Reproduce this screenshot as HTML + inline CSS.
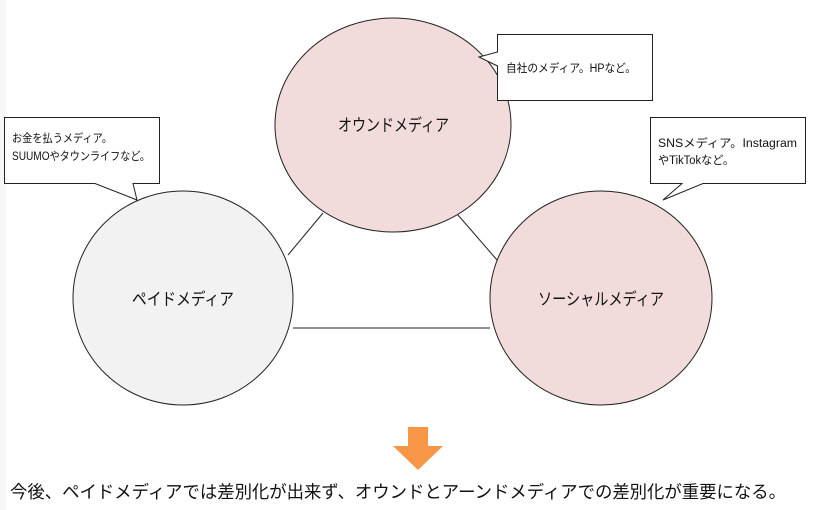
<!DOCTYPE html>
<html><head><meta charset="utf-8"><style>
body{margin:0;width:815px;height:510px;background:#fff;overflow:hidden;position:relative;font-family:"Liberation Sans","Noto Sans CJK JP",sans-serif;}
svg{position:absolute;left:0;top:0}
</style></head><body>
<svg width="815" height="510" xmlns="http://www.w3.org/2000/svg" font-family="Liberation Sans, Noto Sans CJK JP, sans-serif">
<rect x="0" y="0" width="6" height="510" fill="#f7f7f7"/>
<g stroke="#222" stroke-width="1" fill="none">
<line x1="288" y1="255" x2="323" y2="213"/>
<line x1="458" y1="215" x2="497" y2="260"/>
<line x1="293" y1="328" x2="490" y2="328"/>
</g>
<ellipse cx="393" cy="125" rx="118" ry="107" fill="#f2dcdb" stroke="#222"/>
<ellipse cx="183" cy="298" rx="110" ry="107" fill="#f2f2f2" stroke="#222"/>
<ellipse cx="601" cy="298" rx="111" ry="107" fill="#f2dcdb" stroke="#222"/>
<text x="338" y="131" font-size="17" fill="#111" textLength="111" lengthAdjust="spacingAndGlyphs">オウンドメディア</text>
<text x="132" y="305" font-size="17" fill="#111" textLength="102" lengthAdjust="spacingAndGlyphs">ペイドメディア</text>
<text x="538" y="305" font-size="17" fill="#111" textLength="126" lengthAdjust="spacingAndGlyphs">ソーシャルメディア</text>
<path d="M497.5,34.5 H652.5 V100.5 H497.5 V66 L479,57 L497.5,52 Z" fill="#fff" stroke="#222"/>
<path d="M4.5,117.5 H159.5 V183.5 H133 L137,200 L95,183.5 H4.5 Z" fill="#fff" stroke="#222"/>
<path d="M650.5,117.5 H805.5 V183.5 H703 L663,200 L682,183.5 H650.5 Z" fill="#fff" stroke="#222"/>
<text x="506" y="72" font-size="11.5" fill="#111" textLength="130" lengthAdjust="spacingAndGlyphs">自社のメディア。HPなど。</text>
<text x="12" y="142" font-size="11.5" fill="#111" textLength="100" lengthAdjust="spacingAndGlyphs">お金を払うメディア。</text>
<text x="12" y="160" font-size="11.5" fill="#111" textLength="138" lengthAdjust="spacingAndGlyphs">SUUMOやタウンライフなど。</text>
<text x="658" y="147" font-size="11.5" fill="#111" textLength="139" lengthAdjust="spacingAndGlyphs">SNSメディア。Instagram</text>
<text x="658" y="164" font-size="11.5" fill="#111" textLength="76" lengthAdjust="spacingAndGlyphs">やTikTokなど。</text>
<path d="M408,427 H428 V446 H443 L418,470 L393,446 H408 Z" fill="#f79646"/>
<text x="10" y="498" font-size="17.5" fill="#111" textLength="776" lengthAdjust="spacingAndGlyphs">今後、ペイドメディアでは差別化が出来ず、オウンドとアーンドメディアでの差別化が重要になる。</text>
</svg>
</body></html>
